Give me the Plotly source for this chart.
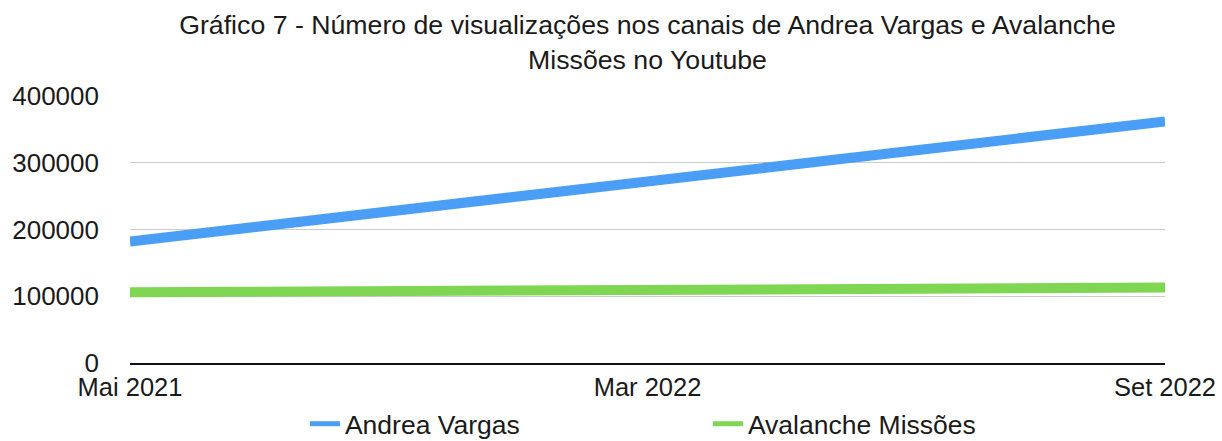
import plotly.graph_objects as go

months = ['Mai 2021', 'Mar 2022', 'Set 2022']
andrea_vargas = [182000, 272000, 362000]
avalanche_missoes = [106000, 109000, 113000]

BLUE = '#4a9ef5'
GREEN = '#7ed653'
FONT = 'Liberation Sans, Arial, sans-serif'

fig = go.Figure()
fig.add_trace(go.Scatter(x=months, y=andrea_vargas, mode='lines', name='Andrea Vargas',
                         line=dict(color=BLUE, width=10), showlegend=False, legendgroup='a'))
fig.add_trace(go.Scatter(x=months, y=avalanche_missoes, mode='lines', name='Avalanche Missões',
                         line=dict(color=GREEN, width=10), showlegend=False, legendgroup='b'))
# legend entries drawn with a thinner stroke, like the reference key
fig.add_trace(go.Scatter(x=[None], y=[None], mode='lines', name='Andrea Vargas',
                         line=dict(color=BLUE, width=5), legendgroup='a'))
fig.add_trace(go.Scatter(x=[None], y=[None], mode='lines', name='Avalanche Missões',
                         line=dict(color=GREEN, width=5), legendgroup='b'))

fig.update_layout(
    width=1222, height=441,
    margin=dict(l=130, r=57, t=96, b=78),
    paper_bgcolor='white', plot_bgcolor='white',
    font=dict(family=FONT, size=25, color='#1a1a1a'),
    title=dict(text='Gráfico 7 - Número de visualizações nos canais de Andrea Vargas e Avalanche<br>Missões no Youtube',
               x=0.5, xref='paper', xanchor='center',
               y=1 - 34 / 441, yref='container', yanchor='middle',
               font=dict(family=FONT, size=26.7, color='#1a1a1a')),
    legend=dict(orientation='h', x=0.169, xanchor='left',
                y=17 / 441, yref='container', yanchor='middle',
                entrywidth=358, font=dict(size=26.5)),
    showlegend=True,
)
fig.update_xaxes(type='category', range=[0, 2], showgrid=False, showline=True,
                 linecolor='#111111', linewidth=2, ticks='', ticklabelstandoff=0,
                 tickfont=dict(size=25.5), automargin=False)
fig.update_yaxes(range=[0, 400000], dtick=100000, tickformat='d', showgrid=True,
                 gridcolor='#cccccc', gridwidth=1, zeroline=False, showline=False,
                 ticks='', ticklabelstandoff=30, tickfont=dict(size=26), automargin=False)

# the default page keeps an 8px body margin; drop it so the figure fills the window
fig.write_html('out.html', config={'displayModeBar': False},
               post_script="document.body.style.margin='0px';")
